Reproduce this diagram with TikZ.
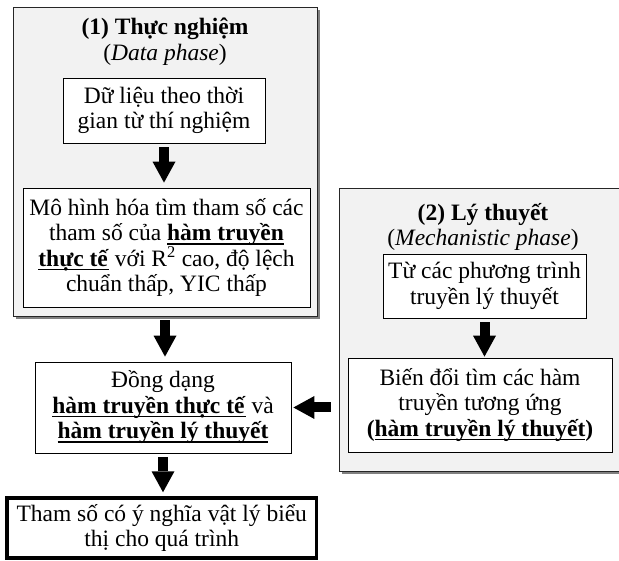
\documentclass[tikz,border=0pt]{standalone}
\usepackage{fontspec}
\setmainfont{Liberation Serif}
\usetikzlibrary{arrows.meta,shadows}
\newsavebox{\hlbox}
\newcommand{\hl}[1]{\sbox{\hlbox}{\textbf{#1}}\rlap{\rule[-3.8pt]{\wd\hlbox}{1.5pt}}\usebox{\hlbox}}
\definecolor{panelfill}{HTML}{F2F2F2}
\definecolor{shadowgray}{HTML}{808080}
\begin{document}
\begin{tikzpicture}[x=1pt,y=-1pt,
  font=\fontsize{23.5}{25.5}\selectfont,
  panel/.style={draw=black!85, line width=0.8pt, fill=panelfill, inner sep=0pt,
    drop shadow={shadow xshift=3pt, shadow yshift=-3pt, fill=shadowgray, opacity=1}},
  stepbox/.style={draw=black, line width=0.8pt, fill=white, inner sep=0pt, align=center},
  titletext/.style={align=center, inner sep=0pt},
  fat/.style={line width=10pt, -{Triangle[length=21pt,width=23pt,line width=0pt]}}]
\useasboundingbox (0,0) rectangle (619,561);
% panels
\node[panel, minimum width=304pt, minimum height=309pt] (p1) at (165,161.5) {};
\node[panel, minimum width=287pt, minimum height=283pt] (p2) at (482.5,329.5) {};
% titles
\node[titletext] (t1) at (165,41.5) {\textbf{(1) Thực nghiệm}\\(\textit{Data phase})};
\node[titletext] (t2) at (483,227) {\textbf{(2) Lý thuyết}\\(\textit{Mechanistic phase})};
% boxes
\node[stepbox, minimum width=202pt, minimum height=65pt] (b1) at (164,110.5)
  {Dữ liệu theo thời\\gian từ thí nghiệm};
\node[stepbox, minimum width=287pt, minimum height=119pt] (b2) at (166.5,247.5)
  {Mô hình hóa tìm tham số các\\tham số của \hl{hàm truyền}\\\hl{thực tế} với R\textsuperscript{2} cao, độ lệch\\chuẩn thấp, YIC thấp};
\node[stepbox, minimum width=203pt, minimum height=64pt] (b3) at (484.5,286)
  {Từ các phương trình\\truyền lý thuyết};
\node[stepbox, minimum width=264pt, minimum height=94pt] (b4) at (480,405)
  {Biến đổi tìm các hàm\\truyền tương ứng\\\textbf{(}\hl{hàm truyền lý thuyết}\textbf{)}};
\node[stepbox, minimum width=256pt, minimum height=91pt] (b5) at (163,407.5)
  {Đồng dạng\\\hl{hàm truyền thực tế} và\\\hl{hàm truyền lý thuyết}};
\node[stepbox, line width=3.5pt, minimum width=309.5pt, minimum height=60pt] (b6) at (161.75,528)
  {Tham số có ý nghĩa vật lý biểu\\thị cho quá trình};
% arrows
\draw[fat, shorten <=4pt, shorten >=5pt] (b1.south) -- (b1.south |- b2.north);
\draw[fat, shorten <=4pt, shorten >=5pt] (p1.south) -- (p1.south |- b5.north);
\draw[fat, shorten <=4pt, shorten >=1pt] (b3.south) -- (b3.south |- b4.north);
\draw[fat, shorten <=8pt, shorten >=2pt] (b5.east -| p2.west) -- (b5.east);
\draw[fat, shorten <=4pt, shorten >=4pt] (b5.south) -- (b5.south |- b6.north);
\end{tikzpicture}
\end{document}
